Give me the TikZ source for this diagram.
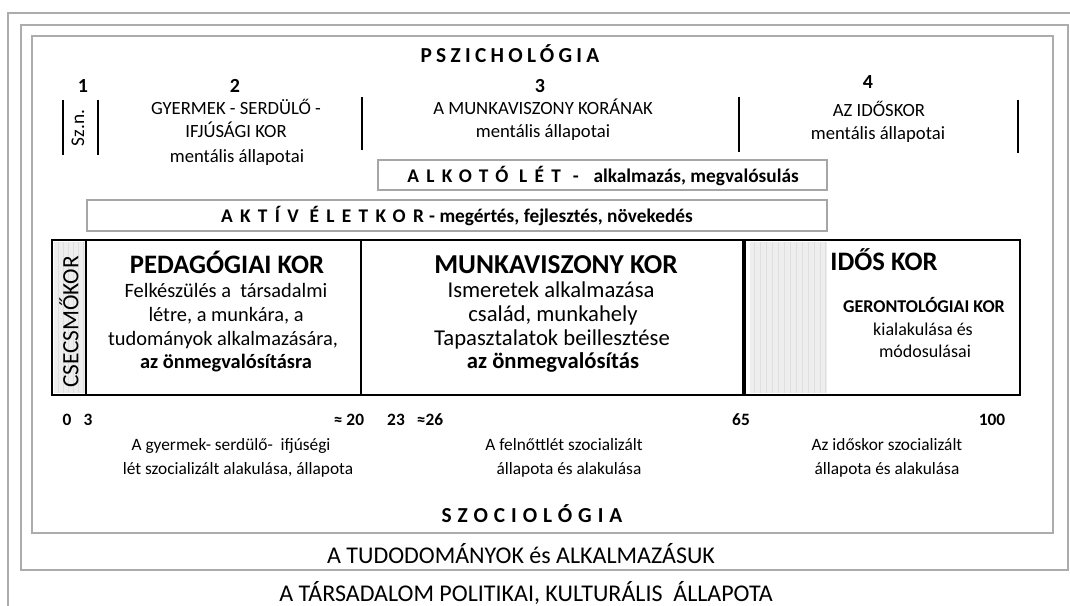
\documentclass[tikz,border=0pt]{standalone}
\usepackage{fontspec}
\setmainfont{Carlito}
\newfontfamily\wideA[LetterSpace=38]{Carlito}
\newfontfamily\wideB[LetterSpace=20]{Carlito}
\newfontfamily\wideC[LetterSpace=28]{Carlito}
\begin{document}
\begin{tikzpicture}[x=0.75pt,y=-0.75pt,
  every node/.style={inner sep=0pt,outer sep=0pt},
  frame/.style={draw=gray!65,line width=1.1pt},
  tbox/.style={draw=gray!70,line width=1.1pt},
  bar/.style={line width=1.5pt},
  mainbox/.style={line width=1.9pt},
  strip/.style={fill=gray!13},
  stripline/.style={draw=gray!25,line width=0.5pt},
  tl/.style={anchor=base,font=\fontsize{14}{17}\selectfont},
  num/.style={anchor=base,font=\fontsize{15}{18}\bfseries},
  title/.style={anchor=base,font=\fontsize{16}{19}\wideB\bfseries},
  head/.style={anchor=base,font=\fontsize{20}{24}\bfseries},
  headm/.style={anchor=base,font=\fontsize{20.5}{24}\bfseries},
  body/.style={anchor=base,font=\fontsize{15.3}{19}\selectfont},
  bodyb/.style={anchor=base,font=\fontsize{15.3}{19}\bfseries},
  bodym/.style={anchor=base,font=\fontsize{17}{21}\selectfont},
  bodymb/.style={anchor=base,font=\fontsize{17}{21}\bfseries},
  small/.style={anchor=base,font=\fontsize{13.5}{16}\selectfont},
  smallb/.style={anchor=base,font=\fontsize{13.5}{16}\bfseries},
  age/.style={anchor=base,font=\fontsize{13}{16}\bfseries},
  soc/.style={anchor=base,font=\fontsize{13}{16}\selectfont},
  big/.style={anchor=base,font=\fontsize{18}{21}\selectfont}]
\useasboundingbox (0,0) rectangle (1070,606);
\fill[white] (0,0) rectangle (1070,606);
% frames
\draw[frame] (8,606) -- (8,13) -- (1070,13);
\draw[frame] (21,25) rectangle (1068,570);
\draw[frame] (32,36) rectangle (1053,533);
% psychology
\node[title] (psy) at (510,63) {PSZICHOLÓGIA};
\node[num] (n1) at (83,93) {1};
\node[num] (n2) at (235,93) {2};
\node[num] (n3) at (540,93) {3};
\node[num] (n4) at (868,89) {4};
\node[rotate=90,font=\fontsize{14.5}{17}\selectfont] (szn) at (78,128) {Sz.n.};
\coordinate (b1a) at (63,100); \coordinate (b1b) at (63,155);
\coordinate (b2a) at (98,100); \coordinate (b2b) at (98,155);
\coordinate (b3a) at (362,97); \coordinate (b3b) at (362,150);
\coordinate (b4a) at (739,97); \coordinate (b4b) at (739,152);
\coordinate (b5a) at (1018,100); \coordinate (b5b) at (1018,153);
\draw[bar] (b1a) -- (b1b);
\draw[bar] (b2a) -- (b2b);
\draw[bar] (b3a) -- (b3b);
\draw[bar] (b4a) -- (b4b);
\draw[bar] (b5a) -- (b5b);
\node[tl] (g1) at (236,115) {GYERMEK - SERDÜLŐ -};
\node[tl] (g2) at (236,138) {IFJÚSÁGI KOR};
\node[tl] (g3) at (237,162) {mentális állapotai};
\node[tl] (m1) at (543,115) {A MUNKAVISZONY KORÁNAK};
\node[tl] (m2) at (543,138) {mentális állapotai};
\node[tl] (i1) at (879,117) {AZ IDŐSKOR};
\node[tl] (i2) at (878,140) {mentális állapotai};
% boxes
\draw[tbox] (378,160) rectangle (827,190);
\node[anchor=base,font=\fontsize{14.5}{17}\bfseries] (alk) at (603,182) {{\wideA ALKOTÓ}\hspace{8pt}{\wideA LÉT}\hspace{9pt}-\hspace{11pt}alkalmazás, megvalósulás};
\draw[tbox] (87,200) rectangle (827,231);
\node[anchor=base,font=\fontsize{14.5}{17}\bfseries] (akt) at (457,222) {{\wideA AKTÍV}\hspace{8pt}{\wideA ÉLETKOR}\hspace{4pt}- megértés, fejlesztés, növekedés};
% main box strips
\fill[strip] (54,242) rectangle (85,393);
\foreach \x in {58,63,68,73,78,83} \draw[stripline] (\x,242) -- (\x,393);
\fill[strip] (750,242) rectangle (827,393);
\foreach \x in {754,760,766,772,778,784,790,796,802,808,814,820,825} \draw[stripline] (\x,242) -- (\x,393);
\draw[mainbox] (52,240) rectangle (1020,395);
\draw[line width=1.6pt] (86,240) -- (86,395);
\draw[line width=1.6pt] (361,240) -- (361,395);
\draw[line width=3pt] (744,240) -- (744,395);
\node[rotate=90,font=\fontsize{17.5}{20}\selectfont] (csec) at (69,322) {CSECSMŐKOR};
\node[head] (ped) at (227,273) {PEDAGÓGIAI KOR};
\node[body] (p1) at (226,297) {Felkészülés a\ \ társadalmi};
\node[body] (p2) at (226,321) {létre, a munkára, a};
\node[body] (p3) at (223,345) {tudományok alkalmazására,};
\node[bodyb] (p4) at (226,368) {az önmegvalósításra};
\node[headm] (mun) at (556,273) {MUNKAVISZONY KOR};
\node[bodym] (w1) at (551,297) {Ismeretek alkalmazása};
\node[bodym] (w2) at (553,321) {család, munkahely};
\node[bodym] (w3) at (552,345) {Tapasztalatok beillesztése};
\node[bodymb] (w4) at (553,368) {az önmegvalósítás};
\node[head] (ido) at (884,270) {IDŐS KOR};
\node[smallb] (ger) at (924,312) {GERONTOLÓGIAI KOR};
\node[small] (k1) at (923,335) {kialakulása és};
\node[small] (k2) at (925,357) {módosulásai};
% ages
\node[age] (a0) at (67,425) {0};
\node[age] (a3) at (88,425) {3};
\node[age] (a20) at (349,425) {≈ 20};
\node[age] (a23) at (396,425) {23};
\node[age] (a26) at (430,425) {≈26};
\node[age] (a65) at (741,425) {65};
\node[age] (a100) at (992,425) {100};
% sociology
\node[soc] (s1) at (231,450) {A gyermek- serdülő-\ \ ifjúségi};
\node[soc] (s2) at (238,474) {lét szocializált alakulása, állapota};
\node[soc] (s3) at (564,450) {A felnőttlét szocializált};
\node[soc] (s4) at (569,474) {állapota és alakulása};
\node[soc] (s5) at (887,450) {Az időskor szocializált};
\node[soc] (s6) at (887,474) {állapota és alakulása};
\node[anchor=base,font=\fontsize{16}{19}\wideC\bfseries] (szoc) at (532,522) {SZOCIOLÓGIA};
\node[big] (tud) at (521,563) {A TUDODOMÁNYOK és ALKALMAZÁSUK};
\node[big] (tars) at (526,601) {A TÁRSADALOM POLITIKAI, KULTURÁLIS\ \ ÁLLAPOTA};
\end{tikzpicture}
\end{document}
